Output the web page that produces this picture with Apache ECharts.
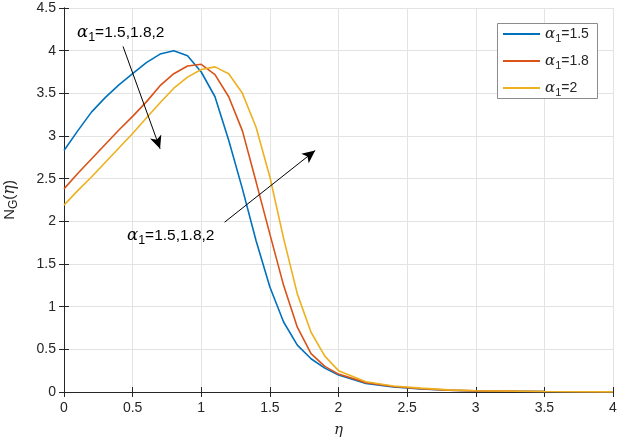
<!DOCTYPE html>
<html>
<head>
<meta charset="utf-8">
<style>
html, body { margin: 0; background: #fff; }
#chart { width: 618px; height: 441px; }
</style>
</head>
<body>
<div id="chart"></div>
<script src="https://cdn.jsdelivr.net/npm/echarts@6/dist/echarts.min.js"></script>
<script>
var eta = [0, 0.1, 0.2, 0.3, 0.4, 0.5, 0.6, 0.7, 0.8, 0.9, 1.0, 1.1, 1.2, 1.3, 1.4, 1.5, 1.6, 1.7, 1.8, 1.9, 2.0, 2.2, 2.4, 2.6, 2.8, 3.0, 3.5, 4.0];
var ng15 = [2.83, 3.06, 3.28, 3.45, 3.60, 3.73, 3.86, 3.96, 4.00, 3.94, 3.75, 3.46, 2.95, 2.38, 1.77, 1.23, 0.82, 0.55, 0.39, 0.28, 0.20, 0.10, 0.06, 0.035, 0.02, 0.012, 0.005, 0.002];
var ng18 = [2.38, 2.56, 2.73, 2.90, 3.07, 3.23, 3.40, 3.59, 3.73, 3.82, 3.84, 3.72, 3.46, 3.06, 2.46, 1.85, 1.25, 0.76, 0.45, 0.30, 0.21, 0.11, 0.065, 0.04, 0.022, 0.013, 0.005, 0.002];
var ng2  = [2.19, 2.36, 2.52, 2.69, 2.86, 3.03, 3.21, 3.39, 3.56, 3.69, 3.78, 3.81, 3.73, 3.50, 3.10, 2.52, 1.80, 1.15, 0.70, 0.42, 0.25, 0.12, 0.07, 0.045, 0.025, 0.014, 0.005, 0.002];
var alphas = ['1.5', '1.8', '2'];
var colors = ['#0072BD', '#D95319', '#EDB120'];
var arrows = [
  [[0.43, 4.05], [0.70, 2.85]],
  [[1.17, 1.99], [1.83, 2.83]]
];

var font = 'Liberation Sans, Arial, sans-serif';
var ink = '#262626';

function makeRich(size) {
  return {
    g: { fontFamily: 'DejaVu Serif', fontStyle: 'italic', fontSize: size + 1, color: ink, lineHeight: 17 },
    s: { fontFamily: font, fontSize: size - 3, color: ink, lineHeight: 10, padding: [9, 0, 0, 0] },
    t: { fontFamily: font, fontSize: size, color: ink, lineHeight: 17 }
  };
}

function pairs(ys) {
  return eta.map(function (x, i) { return [x, ys[i]]; });
}

var chart = echarts.init(document.getElementById('chart'));
var sets = [ng15, ng18, ng2];
var series = sets.map(function (ys, i) {
  return {
    name: alphas[i],
    type: 'line',
    data: pairs(ys),
    showSymbol: false,
    lineStyle: { color: colors[i], width: 1.6 },
    itemStyle: { color: colors[i] },
    z: 3
  };
});
series[0].markLine = {
  silent: true,
  symbol: ['none', 'arrow'],
  symbolSize: [9, 13],
  label: { show: false },
  lineStyle: { color: '#000', width: 1, type: 'solid' },
  animation: false,
  data: arrows.map(function (a) {
    return [{ coord: a[0] }, { coord: a[1] }];
  })
};

function axisCommon() {
  return {
    axisLine: { show: true, lineStyle: { color: ink, width: 1 } },
    axisTick: { show: true, inside: true, length: 5, lineStyle: { color: ink } }
  };
}

chart.setOption({
  animation: false,
  textStyle: { fontFamily: font },
  grid: { left: 64, right: 5, top: 8, bottom: 49, outerBoundsMode: 'none', containLabel: false },
  legend: {
    orient: 'vertical',
    left: 503, top: 24,
    padding: 0,
    itemGap: 7,
    itemWidth: 37,
    itemHeight: 2,
    icon: 'rect',
    z: 10,
    data: alphas,
    formatter: function (n) { return '{g|α}{s|1}{t|=' + n + '}'; },
    textStyle: { rich: makeRich(14) }
  },
  xAxis: [
    Object.assign(axisCommon(), {
      type: 'value', min: 0, max: 4, interval: 0.5,
      name: 'η', nameLocation: 'middle', nameGap: 31,
      nameTextStyle: { fontFamily: 'DejaVu Serif', fontStyle: 'italic', fontSize: 15, color: ink },
      axisLabel: { fontSize: 14, color: ink, margin: 9 },
      splitLine: { show: true, lineStyle: { color: '#e3e3e3' } }
    }),
    Object.assign(axisCommon(), {
      type: 'value', min: 0, max: 4, interval: 0.5, position: 'top',
      axisLabel: { show: false }, splitLine: { show: false }
    })
  ],
  yAxis: [
    Object.assign(axisCommon(), {
      type: 'value', min: 0, max: 4.5, interval: 0.5,
      name: '{t|N}{s|G}{t|(}{g|η}{t|)}', nameLocation: 'middle', nameGap: 46,
      nameTextStyle: { rich: makeRich(15) },
      axisLabel: { fontSize: 14, color: ink, margin: 8 },
      splitLine: { show: true, lineStyle: { color: '#e3e3e3' } }
    }),
    Object.assign(axisCommon(), {
      type: 'value', min: 0, max: 4.5, interval: 0.5, position: 'right',
      axisLabel: { show: false }, splitLine: { show: false }
    })
  ],
  graphic: [
    {
      type: 'rect', left: 497, top: 23, z: 9,
      shape: { width: 100, height: 75 },
      style: { fill: '#fff', stroke: '#8c8c8c', lineWidth: 1 }
    },
    {
      type: 'text', left: 77, top: 22, z: 10,
      style: { text: '{g|α}{s|1}{t|=1.5,1.8,2}', rich: makeRich(15.5) }
    },
    {
      type: 'text', left: 127, top: 225, z: 10,
      style: { text: '{g|α}{s|1}{t|=1.5,1.8,2}', rich: makeRich(15.5) }
    }
  ],
  series: series
});
</script>
</body>
</html>
